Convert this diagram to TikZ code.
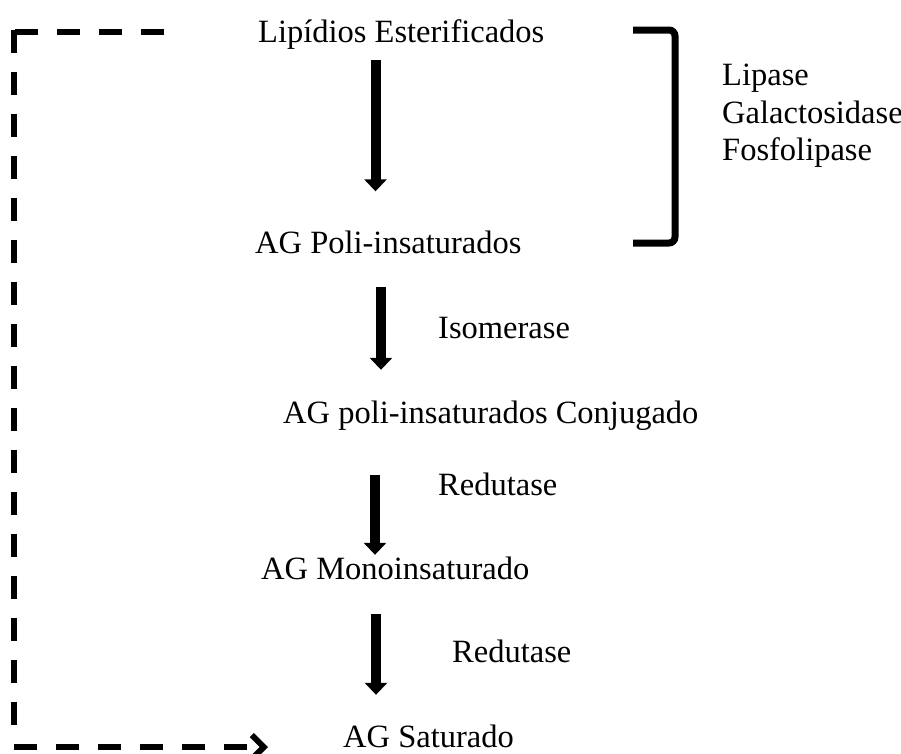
\documentclass[tikz,border=0pt]{standalone}
\usepackage{fontspec}
\setmainfont{Liberation Serif}
\usetikzlibrary{arrows.meta}
\begin{document}
\begin{tikzpicture}[x=1pt,y=-1pt,
  label/.style={anchor=base west,inner sep=0pt,text height=22pt,text depth=7pt,
    font=\fontsize{32.5}{38}\selectfont},
  flow/.style={line width=10pt,-{Triangle[width=22pt,length=12pt]}},
  feedback/.style={line width=6pt,dash pattern=on 23pt off 19pt,
    -{Straight Barb[length=12pt,width=24pt]}},
  bracket/.style={line width=7pt,rounded corners=6pt}]
\useasboundingbox (0,0) rectangle (901,753);

% compounds of the pathway
\node[label] (lip)    at (258,42)  {Lipídios Esterificados};
\node[label] (agpoli) at (255,253) {AG Poli-insaturados};
\node[label] (conj)   at (283,423) {AG poli-insaturados Conjugado};
\node[label] (mono)   at (261,579) {AG Monoinsaturado};
\node[label] (sat)    at (343,747) {AG Saturado};

% enzymes
\node[label] (e1) at (722,85)  {Lipase};
\node[label] (e2) at (722,123) {Galactosidase};
\node[label] (e3) at (722,160) {Fosfolipase};
\node[label] (iso)  at (438,338) {Isomerase};
\node[label] (red1) at (438,495) {Redutase};
\node[label] (red2) at (452,662) {Redutase};

% reaction arrows
\coordinate (x1) at (375.5,0);
\coordinate (x2) at (381,0);
\coordinate (x3) at (375,0);
\coordinate (x4) at (376,0);
\draw[flow,shorten <=11pt,shorten >=39.5pt] (lip.south -| x1) -- (agpoli.north -| x1);
\draw[flow,shorten <=27pt,shorten >=31pt] (agpoli.south -| x2) -- (conj.north -| x2);
\draw[flow,shorten <=45pt,shorten >=2pt] (conj.south -| x3) -- (mono.north -| x3);
\draw[flow,shorten <=28pt,shorten >=30pt] (mono.south -| x4) -- (sat.north -| x4);

% bracket grouping the first enzymes
\coordinate (bt) at (633,30);
\coordinate (bb) at (633,243);
\draw[bracket] (bt) -- (675,30) -- (675,243) -- (bb);

% dashed feedback loop
\coordinate (fbstart) at (164,32);
\coordinate (fbtl) at (11,32);
\coordinate (fbbl) at (14,747);
\coordinate (fbend) at (268,747);
\draw[feedback] (fbstart) -- (fbtl)
  (14,29.5) -- (14,740)
  (fbbl) -- (fbend);
\end{tikzpicture}
\end{document}
